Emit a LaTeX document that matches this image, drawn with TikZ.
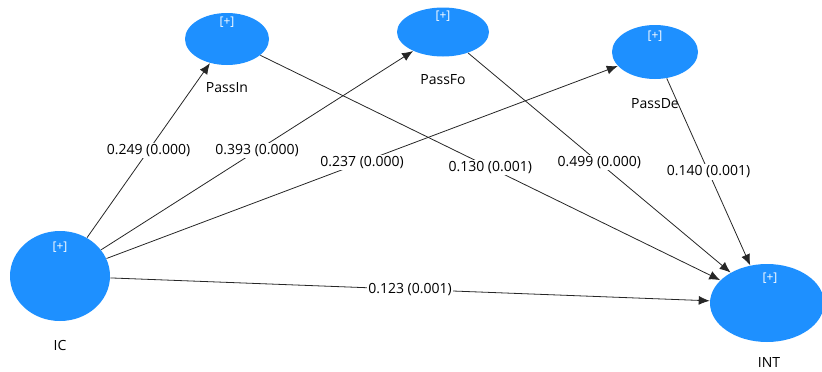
\documentclass[tikz,border=0pt]{standalone}
\usepackage{fontspec}
\setmainfont{Open Sans}
\usepackage{tikz}
\usetikzlibrary{arrows.meta, shapes.geometric}

\definecolor{lvblue}{RGB}{30,144,255}

\tikzset{
  latent/.style={ellipse, fill=lvblue, inner sep=0pt},
  plus/.style={text=white, font=\fontsize{12}{14}\selectfont, inner sep=0pt},
  varname/.style={inner sep=1pt},
  coef/.style={fill=white, inner sep=1.5pt, pos=0.5},
  path/.style={draw=black!85, -{Latex[length=11pt, width=9pt]}}
}

\begin{document}
\begin{tikzpicture}[x=1pt, y=-1pt, line width=0.8pt, font=\fontsize{14}{16}\selectfont]

\useasboundingbox (0,0) rectangle (822,372);

% draw latent variables
\node[latent, minimum width=84pt, minimum height=52pt] (passin) at (227,39) {};
\node[latent, minimum width=92pt, minimum height=49pt] (passfo) at (443,32) {};
\node[latent, minimum width=86pt, minimum height=54pt] (passde) at (655,52) {};
\node[latent, minimum width=100pt, minimum height=90pt] (ic) at (60,276) {};
\node[latent, minimum width=114pt, minimum height=78pt] (int) at (767,303) {};

% draw [+] markers
\node[plus] (passinplus) at (227,22) {[+]};
\node[plus] (passfoplus) at (443,16) {[+]};
\node[plus] (passdeplus) at (655,36) {[+]};
\node[plus] (icplus) at (60,247) {[+]};
\node[plus] (intplus) at (770,278) {[+]};

% draw variable names
\node[varname] (passinname) at (227,88) {PassIn};
\node[varname] (passfoname) at (443,80) {PassFo};
\node[varname] (passdename) at (655,104) {PassDe};
\node[varname] (icname) at (60,345) {IC};
\node[varname] (intname) at (769,362) {INT};

% draw paths with coefficients
\draw[path] (ic) -- node[coef] {0.249 (0.000)} (passin);
\draw[path] (ic) -- node[coef] {0.393 (0.000)} (passfo);
\draw[path] (ic) -- node[coef] {0.237 (0.000)} (passde);
\draw[path] (ic) -- node[coef] {0.123 (0.001)} (int);
\draw[path] (passin) -- node[coef] {0.130 (0.001)} (int);
\draw[path] (passfo) -- node[coef] {0.499 (0.000)} (int);
\draw[path] (passde) -- node[coef] {0.140 (0.001)} (int);

\end{tikzpicture}
\end{document}
